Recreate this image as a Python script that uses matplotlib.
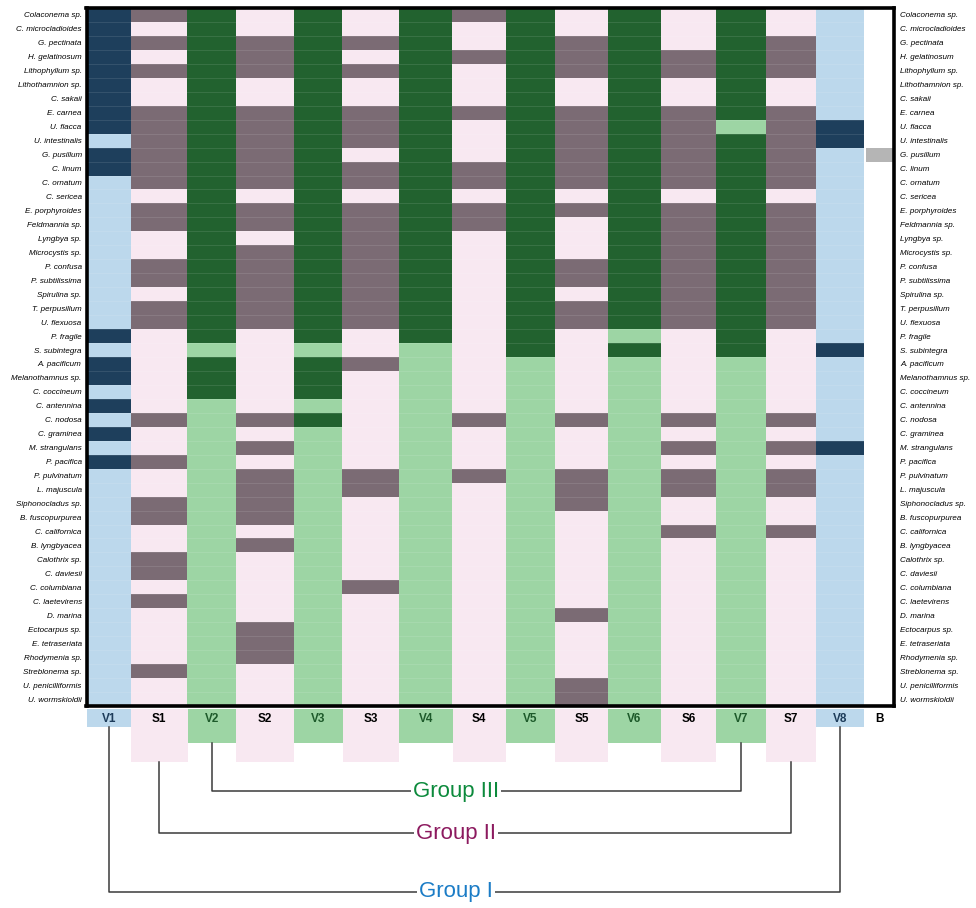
import numpy as np
import matplotlib.pyplot as plt

# Species (rows, top to bottom)
species = [
    'Colaconema sp.', 'C. microcladioides', 'G. pectinata', 'H. gelatinosum',
    'Lithophyllum sp.', 'Lithothamnion sp.', 'C. sakaii', 'E. carnea',
    'U. flacca', 'U. intestinalis', 'G. pusillum', 'C. linum', 'C. ornatum',
    'C. sericea', 'E. porphyroides', 'Feldmannia sp.', 'Lyngbya sp.',
    'Microcystis sp.', 'P. confusa', 'P. subtilissima', 'Spirulina sp.',
    'T. perpusillum', 'U. flexuosa', 'P. fragile', 'S. subintegra',
    'A. pacificum', 'Melanothamnus sp.', 'C. coccineum', 'C. antennina',
    'C. nodosa', 'C. graminea', 'M. strangulans', 'P. pacifica',
    'P. pulvinatum', 'L. majuscula', 'Siphonocladus sp.', 'B. fuscopurpurea',
    'C. californica', 'B. lyngbyacea', 'Calothrix sp.', 'C. daviesii',
    'C. columbiana', 'C. laetevirens', 'D. marina', 'Ectocarpus sp.',
    'E. tetraseriata', 'Rhodymenia sp.', 'Streblonema sp.',
    'U. penicilliformis', 'U. wormskioldii',
]

columns = ['V1', 'S1', 'V2', 'S2', 'V3', 'S3', 'V4', 'S4', 'V5', 'S5',
           'V6', 'S6', 'V7', 'S7', 'V8', 'B']
kinds = ['blue', 'pink', 'green', 'pink', 'green', 'pink', 'green', 'pink',
         'green', 'pink', 'green', 'pink', 'green', 'pink', 'blue', 'gray']

# presence (1) / absence (0), rows 1-50 in blocks of ten
presence = {
    'V1': '1111111110 1100000000 0001011010 1010000000 0000000000',
    'S1': '1010100111 1110110011 0110000001 0010011001 1010000100',
    'V2': '1111111111 1111111111 1111011100 0000000000 0000000000',
    'S2': '0011100111 1110110111 1110000001 0101111010 0000111000',
    'V3': '1111111111 1111111111 1111011101 0000000000 0000000000',
    'S3': '0010100111 0110111111 1110010000 0001100000 0100000000',
    'V4': '1111111111 1111111111 1111000000 0000000000 0000000000',
    'S4': '1001000100 0110110000 0000000001 0001000000 0000000000',
    'V5': '1111111111 1111111111 1111100000 0000000000 0000000000',
    'S5': '0011100111 1110100011 0110000001 0001110000 0001000011',
    'V6': '1111111111 1111111111 1110100000 0000000000 0000000000',
    'S6': '0001100111 1110111111 1110000001 0101100100 0000000000',
    'V7': '1111111101 1111111111 1111100000 0000000000 0000000000',
    'S7': '0011100111 1110111111 1110000001 0101100100 0000000000',
    'V8': '0000000011 0000000000 0000100000 0100000000 0000000000',
    'B':  '0000000000 1000000000 0000000000 0000000000 0000000000',
}

groups = ['Group III', 'Group II', 'Group I']
group_ends = [('V2', 'V7'), ('S1', 'S7'), ('V1', 'V8')]

# colours: (absent, present)
palette = {
    'blue': ('#bcd8ec', '#1e3f5c'),
    'pink': ('#f8e8f1', '#7b6b74'),
    'green': ('#9dd5a4', '#22622f'),
    'gray': ('#ffffff', '#b5b5b5'),
}
label_colors = {'blue': '#1d3c5a', 'green': '#1d5a2a', 'pink': 'black', 'gray': 'black'}
group_colors = ['#0c8a3c', '#8c1a5f', '#1b7cc6']

narrow = ['Liberation Sans Narrow', 'Liberation Sans', 'DejaVu Sans']

# layout in pixels
W, H = 976, 908
col_edges = [86.5, 131, 187.5, 236, 294, 342.5, 399, 452.5, 506, 555,
             608, 661, 716, 766, 816, 864, 894]
grid_top, grid_bottom = 8, 706
box_bottom = {'blue': 727, 'green': 743, 'pink': 762, 'gray': 709}
group_y = [791, 833, 892]

fig = plt.figure(figsize=(W / 100, H / 100), dpi=100)

# overlay axes in pixel coordinates for the lower part
ax_low = fig.add_axes([0, 0, 1, 1])
ax_low.set_xlim(0, W)
ax_low.set_ylim(H, 0)
ax_low.axis('off')

ax = fig.add_axes([col_edges[0] / W, 1 - grid_bottom / H,
                   (col_edges[-1] - col_edges[0]) / W,
                   (grid_bottom - grid_top) / H])

n = len(species)
rows = np.arange(n)
centers = {}
for j, col in enumerate(columns):
    kind = kinds[j]
    flags = [c == '1' for c in presence[col].replace(' ', '')]
    colors = [palette[kind][1] if f else palette[kind][0] for f in flags]
    left, right = col_edges[j], col_edges[j + 1]
    if col == 'B':
        left = left + 2
    xc = (left + right) / 2
    centers[col] = xc
    ax.bar(xc, 1, width=right - left, bottom=rows, color=colors,
           edgecolor='none', align='center')

    # label box under the grid
    if kind != 'gray':
        ax_low.bar(xc, box_bottom[kind] - 709, width=right - left, bottom=709,
                   color=palette[kind][0], edgecolor='none')
    ax_low.text(xc, 719.5, col, ha='center', va='center', fontsize=8.5,
                fontweight='bold', color=label_colors[kind], family=narrow)

# faint row separators
ax.hlines(rows[1:], col_edges[0], col_edges[-2], color='white', alpha=0.12, lw=0.6)

ax.set_xlim(col_edges[0], col_edges[-1])
ax.set_ylim(n, 0)
ax.set_xticks([])
ax.set_yticks(rows + 0.5)
ax.set_yticklabels(species, fontstyle='italic', fontsize=5.8, family=narrow)
ax.tick_params(axis='y', length=0, pad=3.5)
for s in ax.spines.values():
    s.set_linewidth(2.6)
    s.set_color('black')

ax_r = ax.twinx()
ax_r.set_ylim(n, 0)
ax_r.set_yticks(rows + 0.5)
ax_r.set_yticklabels(species, fontstyle='italic', fontsize=5.8, family=narrow)
ax_r.tick_params(axis='y', length=0, pad=4.5)
for s in ax_r.spines.values():
    s.set_visible(False)

# group brackets
for name, (c1, c2), y, gc in zip(groups, group_ends, group_y, group_colors):
    x1, x2 = centers[c1], centers[c2]
    k1 = kinds[columns.index(c1)]
    k2 = kinds[columns.index(c2)]
    ax_low.plot([x1, x1, x2, x2], [box_bottom[k1], y, y, box_bottom[k2]],
                color='#3a3a3a', lw=1.1)
    ax_low.text(456, y, name, ha='center', va='center', fontsize=16,
                color=gc, family=narrow,
                bbox=dict(facecolor='white', edgecolor='none', pad=1.5))

plt.savefig('out.png', dpi=100)
